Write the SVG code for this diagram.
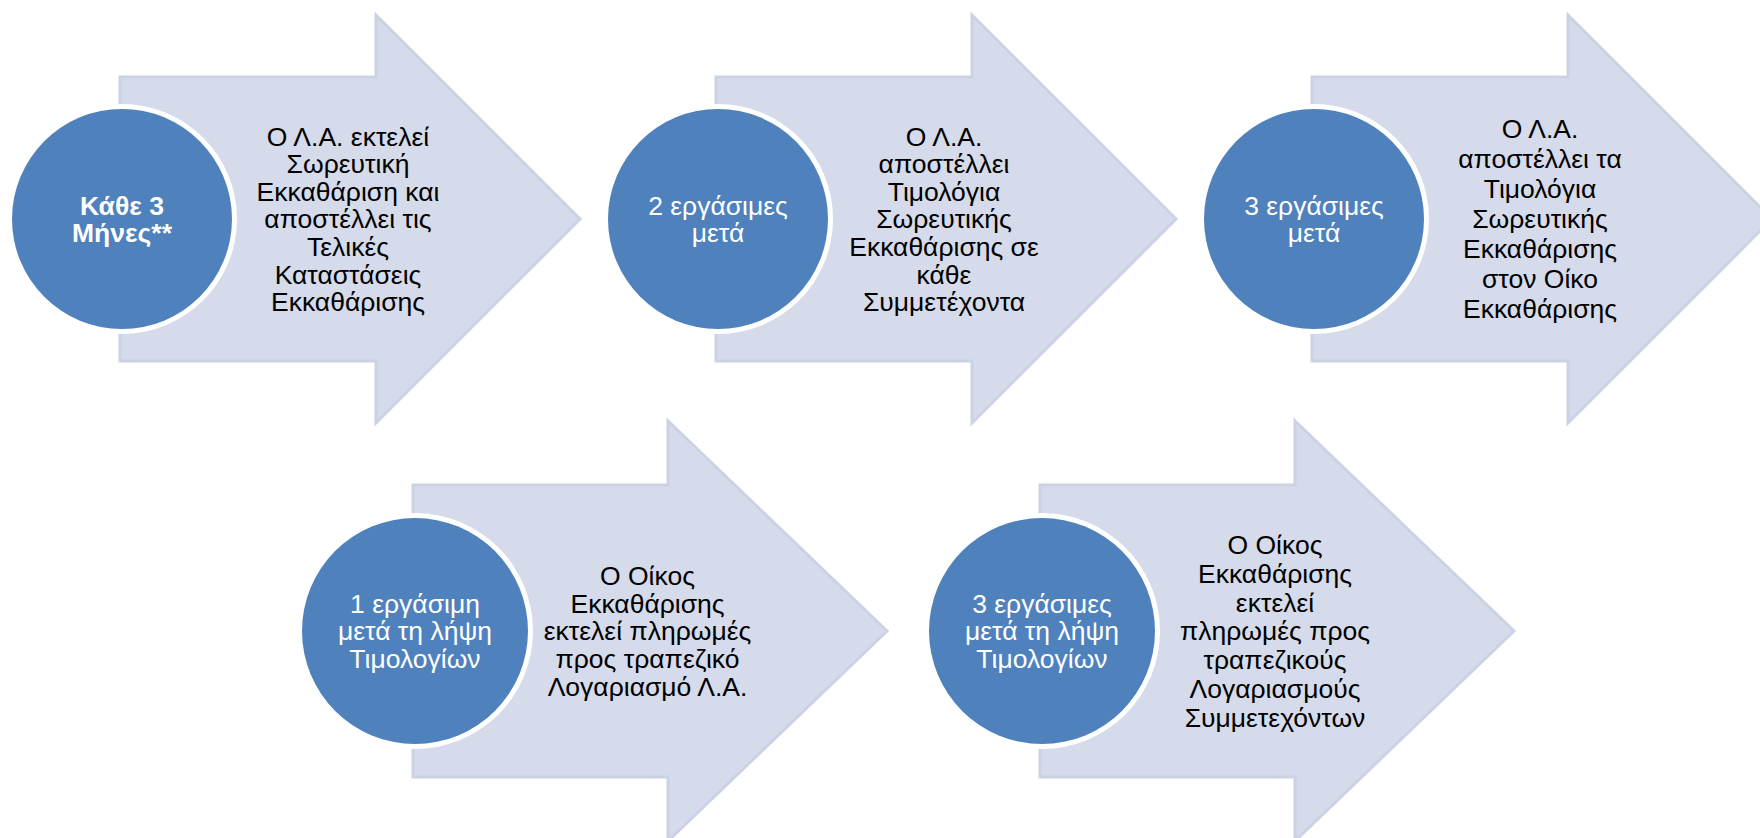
<svg xmlns="http://www.w3.org/2000/svg" width="1760" height="838" viewBox="0 0 1760 838">
<style>
.arrow{fill:#d5dbea;stroke:#cbd2e4;stroke-width:3;stroke-linejoin:miter}
.halo{fill:#ffffff}
.disc{fill:#4f81bd}
.t{font-family:"Liberation Sans",Arial,sans-serif;font-size:26.5px;text-anchor:middle;fill:#000000}
.c{font-family:"Liberation Sans",Arial,sans-serif;font-size:26.5px;text-anchor:middle;fill:#ffffff}
.b{font-weight:bold}
</style>
<rect width="1760" height="838" fill="#ffffff"/>
<g id="step1">
<polygon class="arrow" points="120,77 376,77 376,15 580,219 376,423 376,361 120,361"/>
<circle class="halo" cx="122" cy="219" r="115"/>
<circle class="disc" cx="122" cy="219" r="110"/>
<text class="c b"><tspan x="122" y="214.8">Κάθε 3</tspan><tspan x="122" y="241.8">Μήνες**</tspan></text>
<text class="t"><tspan x="348" y="145.5">Ο Λ.Α. εκτελεί</tspan><tspan x="348" y="173.1">Σωρευτική</tspan><tspan x="348" y="200.7">Εκκαθάριση και</tspan><tspan x="348" y="228.3">αποστέλλει τις</tspan><tspan x="348" y="255.9">Τελικές</tspan><tspan x="348" y="283.5">Καταστάσεις</tspan><tspan x="348" y="311.1">Εκκαθάρισης</tspan></text>
</g>
<g id="step2">
<polygon class="arrow" points="716,77 972,77 972,15 1176,219 972,423 972,361 716,361"/>
<circle class="halo" cx="718" cy="219" r="115"/>
<circle class="disc" cx="718" cy="219" r="110"/>
<text class="c"><tspan x="718" y="214.8">2 εργάσιμες</tspan><tspan x="718" y="241.8">μετά</tspan></text>
<text class="t"><tspan x="944" y="145.5">Ο Λ.Α.</tspan><tspan x="944" y="173.1">αποστέλλει</tspan><tspan x="944" y="200.7">Τιμολόγια</tspan><tspan x="944" y="228.3">Σωρευτικής</tspan><tspan x="944" y="255.9">Εκκαθάρισης σε</tspan><tspan x="944" y="283.5">κάθε</tspan><tspan x="944" y="311.1">Συμμετέχοντα</tspan></text>
</g>
<g id="step3">
<polygon class="arrow" points="1312,77 1568,77 1568,15 1772,219 1568,423 1568,361 1312,361"/>
<circle class="halo" cx="1314" cy="219" r="115"/>
<circle class="disc" cx="1314" cy="219" r="110"/>
<text class="c"><tspan x="1314" y="214.8">3 εργάσιμες</tspan><tspan x="1314" y="241.8">μετά</tspan></text>
<text class="t"><tspan x="1540" y="138.3">Ο Λ.Α.</tspan><tspan x="1540" y="168.3">αποστέλλει τα</tspan><tspan x="1540" y="198.3">Τιμολόγια</tspan><tspan x="1540" y="228.3">Σωρευτικής</tspan><tspan x="1540" y="258.3">Εκκαθάρισης</tspan><tspan x="1540" y="288.3">στον Οίκο</tspan><tspan x="1540" y="318.3">Εκκαθάρισης</tspan></text>
</g>
<g id="step4">
<polygon class="arrow" points="413,485 668,485 668,421 887,631 668,841 668,777 413,777"/>
<circle class="halo" cx="415" cy="631" r="118"/>
<circle class="disc" cx="415" cy="631" r="113"/>
<text class="c"><tspan x="415" y="613.1">1 εργάσιμη</tspan><tspan x="415" y="640.3">μετά τη λήψη</tspan><tspan x="415" y="667.5">Τιμολογίων</tspan></text>
<text class="t"><tspan x="647.5" y="584.9">Ο Οίκος</tspan><tspan x="647.5" y="612.6">Εκκαθάρισης</tspan><tspan x="647.5" y="640.3">εκτελεί πληρωμές</tspan><tspan x="647.5" y="668">προς τραπεζικό</tspan><tspan x="647.5" y="695.7">Λογαριασμό Λ.Α.</tspan></text>
</g>
<g id="step5">
<polygon class="arrow" points="1040,485 1295,485 1295,421 1514,631 1295,841 1295,777 1040,777"/>
<circle class="halo" cx="1042" cy="631" r="118"/>
<circle class="disc" cx="1042" cy="631" r="113"/>
<text class="c"><tspan x="1042" y="613.1">3 εργάσιμες</tspan><tspan x="1042" y="640.3">μετά τη λήψη</tspan><tspan x="1042" y="667.5">Τιμολογίων</tspan></text>
<text class="t"><tspan x="1275" y="553.9">Ο Οίκος</tspan><tspan x="1275" y="582.7">Εκκαθάρισης</tspan><tspan x="1275" y="611.5">εκτελεί</tspan><tspan x="1275" y="640.3">πληρωμές προς</tspan><tspan x="1275" y="669.1">τραπεζικούς</tspan><tspan x="1275" y="697.9">Λογαριασμούς</tspan><tspan x="1275" y="726.7">Συμμετεχόντων</tspan></text>
</g>
<g id="connectors"></g>
</svg>
